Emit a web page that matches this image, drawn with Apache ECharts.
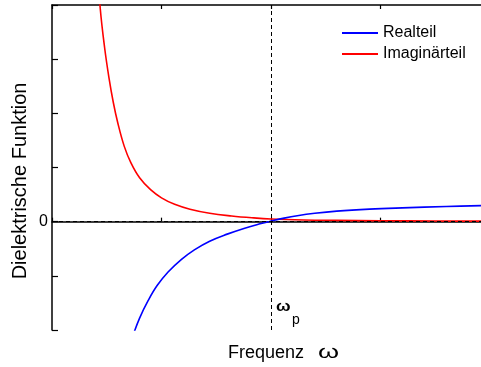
<!DOCTYPE html>
<html>
<head>
<meta charset="utf-8">
<script src="https://cdn.jsdelivr.net/npm/echarts@6/dist/echarts.min.js"></script>
<style>html,body{margin:0;padding:0;background:#fff;}#c{width:481px;height:367px;}</style>
</head>
<body>
<div id="c"></div>
<script>
// frequency in units of the plasma frequency (omega / omega_p)
const realW = [0.37, 0.40, 0.44, 0.48, 0.53, 0.59, 0.65, 0.72, 0.80, 0.88, 0.95, 1.00, 1.06, 1.12, 1.20, 1.30, 1.45, 1.60, 1.80, 2.00];
const realV = [-2.10, -1.78, -1.45, -1.18, -0.93, -0.70, -0.52, -0.36, -0.23, -0.12, -0.04, 0.01, 0.065, 0.11, 0.155, 0.195, 0.232, 0.255, 0.279, 0.300];
const imagW = [0.20, 0.22, 0.24, 0.26, 0.28, 0.30, 0.33, 0.36, 0.40, 0.45, 0.50, 0.56, 0.63, 0.72, 0.82, 0.92, 1.00, 1.15, 1.30, 1.50, 1.75, 2.00];
const imagV = [5.1, 3.95, 3.22, 2.66, 2.20, 1.83, 1.39, 1.09, 0.81, 0.59, 0.44, 0.32, 0.23, 0.155, 0.105, 0.070, 0.050, 0.032, 0.024, 0.017, 0.012, 0.009];
const seriesNames = ['Realteil', 'Imaginärteil'];
const yTickLabels = {'0': '0'};
const xTitle = 'Frequenz';
const yTitle = 'Dielektrische Funktion';
const omegaP = 1;

const chart = echarts.init(document.getElementById('c'), null, {renderer: 'canvas'});
const zip = (a, b) => a.map((v, i) => [v, b[i]]);
const axisLine = {show: true, lineStyle: {color: '#000', width: 1.5}};
const tick = len => ({show: true, inside: true, length: len, lineStyle: {color: '#000', width: 1.2}});
chart.setOption({
  animation: false,
  backgroundColor: '#fff',
  grid: {left: 52, right: -9, top: 5, bottom: 37, containLabel: false, outerBoundsMode: 'none'},
  legend: {
    orient: 'vertical', left: 342, top: 25, padding: 0, itemWidth: 36, itemHeight: 2, itemGap: 5,
    icon: 'rect', data: seriesNames,
    textStyle: {fontFamily: 'Liberation Sans, Arial', fontSize: 16, color: '#000', lineHeight: 16}
  },
  xAxis: [{
    type: 'value', min: 0, max: 2, interval: 0.5, position: 'bottom',
    axisLine: axisLine, axisTick: tick(4), axisLabel: {show: false}, splitLine: {show: false}
  }, {
    type: 'value', min: 0, max: 2, interval: 0.5, position: 'top',
    axisLine: axisLine, axisTick: tick(4), axisLabel: {show: false}, splitLine: {show: false}
  }],
  yAxis: {
    type: 'value', min: -2, max: 4, interval: 1,
    axisLine: axisLine, axisTick: tick(6),
    axisLabel: {formatter: v => yTickLabels[String(v)] || '', fontFamily: 'Liberation Sans, Arial', fontSize: 16, color: '#000', margin: 4},
    splitLine: {show: false}
  },
  series: [{
    name: seriesNames[0], type: 'line', data: zip(realW, realV), showSymbol: false, symbol: 'none',
    smooth: 0.4, clip: true,
    lineStyle: {color: '#0000ff', width: 1.6}, itemStyle: {color: '#0000ff'}, z: 3,
    markLine: {
      silent: true, symbol: 'none', label: {show: false},
      lineStyle: {color: '#000', type: [4, 3], width: 1},
      data: [{yAxis: 0}, {xAxis: omegaP}]
    }
  }, {
    name: seriesNames[1], type: 'line', data: zip(imagW, imagV), showSymbol: false, symbol: 'none',
    smooth: 0.4, clip: true,
    lineStyle: {color: '#ff0000', width: 1.6}, itemStyle: {color: '#ff0000'}, z: 2
  }]
});
const p = chart.convertToPixel({xAxisIndex: 0, yAxisIndex: 0}, [omegaP, -2]);
chart.setOption({
  graphic: [
    {type: 'text', x: p[0] + 5, y: p[1] - 23, scaleX: 1.15,
     style: {text: 'ω', fontFamily: 'Liberation Sans, Arial', fontSize: 15, fontWeight: 'bold', fill: '#000', textVerticalAlign: 'middle'}},
    {type: 'text', x: p[0] + 21, y: p[1] - 10,
     style: {text: 'p', fontFamily: 'Liberation Sans, Arial', fontSize: 14, fill: '#000', textVerticalAlign: 'middle'}},
    {type: 'text', x: 228, y: 353,
     style: {text: xTitle, fontFamily: 'Liberation Sans, Arial', fontSize: 18, fill: '#000', textVerticalAlign: 'middle'}},
    {type: 'text', x: 318, y: 353, scaleX: 1.5,
     style: {text: 'ω', fontFamily: 'Liberation Sans, Arial', fontSize: 18, fill: '#000', textVerticalAlign: 'middle'}},
    {type: 'text', x: 20, y: 181, rotation: Math.PI / 2,
     style: {text: yTitle, fontFamily: 'Liberation Sans, Arial', fontSize: 20, fill: '#000', textAlign: 'center', textVerticalAlign: 'middle'}}
  ]
});
</script>
</body>
</html>
